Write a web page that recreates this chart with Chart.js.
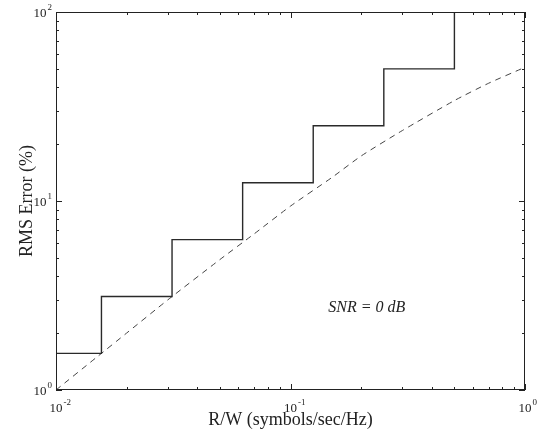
<!DOCTYPE html>
<html>
<head>
<meta charset="utf-8">
<script src="https://cdn.jsdelivr.net/npm/chart.js@4.4.0/dist/chart.umd.min.js"></script>
<style>
  html, body { margin: 0; padding: 0; background: #fff; }
  #wrap { width: 538px; height: 435px; }
</style>
</head>
<body>
<div id="wrap"><canvas id="myChart" width="538" height="435"></canvas></div>
<script>
// dados
const stepRW = [0.01, 0.015625, 0.03125, 0.0625, 0.125, 0.25, 0.5, 1];
const stepRMS = [1.5625, 3.125, 6.25, 12.5, 25, 50, 100, 100];
const curveRW = [0.01, 0.015, 0.02, 0.03, 0.05, 0.07, 0.1, 0.15, 0.2, 0.3, 0.5, 0.7, 1.0];
const curveRMS = [1.0, 1.5, 2.0, 3.0, 4.9, 6.7, 9.4, 13.3, 17.3, 23.6, 34, 42, 51];
const xDecades = [0.01, 0.1, 1];
const xExp = ['-2', '-1', '0'];
const yDecades = [1, 10, 100];
const yExp = ['0', '1', '2'];
const note = 'SNR = 0 dB';
const notePos = [0.145, 2.6];

const serif = '"Liberation Serif", "DejaVu Serif", serif';
const ink = '#222';

function toPoints(xs, ys) {
  return xs.map((x, i) => ({ x: x, y: ys[i] }));
}

// moldura, marcas internas, rótulos 10^n e anotação
const framePlugin = {
  id: 'frame',
  afterDatasetsDraw(chart) {
    const { ctx, chartArea: a, scales } = chart;
    const xs = scales.x, ys = scales.y;
    ctx.save();
    ctx.strokeStyle = ink;
    ctx.lineWidth = 1;
    ctx.strokeRect(a.left + 0.5, a.top + 0.5, a.right - a.left - 1, a.bottom - a.top - 1);

    ctx.beginPath();
    for (let d = 0; d < xDecades.length; d++) {
      for (let k = 1; k < 10; k++) {
        const v = xDecades[d] * k;
        if (v > xDecades[xDecades.length - 1]) break;
        const px = Math.round(xs.getPixelForValue(v)) + 0.5;
        const len = k === 1 ? 6 : 3;
        ctx.moveTo(px, a.bottom); ctx.lineTo(px, a.bottom - len);
        ctx.moveTo(px, a.top); ctx.lineTo(px, a.top + len);
      }
    }
    for (let d = 0; d < yDecades.length; d++) {
      for (let k = 1; k < 10; k++) {
        const v = yDecades[d] * k;
        if (v > yDecades[yDecades.length - 1]) break;
        const py = Math.round(ys.getPixelForValue(v)) + 0.5;
        const len = k === 1 ? 6 : 3;
        ctx.moveTo(a.left, py); ctx.lineTo(a.left + len, py);
        ctx.moveTo(a.right, py); ctx.lineTo(a.right - len, py);
      }
    }
    ctx.stroke();

    ctx.fillStyle = ink;
    ctx.textBaseline = 'alphabetic';
    const base = '13px ' + serif;
    const sup = '9px ' + serif;
    xDecades.forEach((v, i) => {
      const px = xs.getPixelForValue(v);
      ctx.font = base;
      const w = ctx.measureText('10').width;
      ctx.textAlign = 'left';
      ctx.fillText('10', px - w / 2, a.bottom + 22);
      ctx.font = sup;
      ctx.fillText(xExp[i], px + w / 2 + 1, a.bottom + 15);
    });
    yDecades.forEach((v, i) => {
      const py = ys.getPixelForValue(v);
      ctx.font = sup;
      const we = ctx.measureText(yExp[i]).width;
      ctx.textAlign = 'left';
      const right = a.left - 4;
      ctx.fillText(yExp[i], right - we, py - 2);
      ctx.font = base;
      ctx.textAlign = 'right';
      ctx.fillText('10', right - we - 1, py + 5);
    });

    ctx.font = 'italic 16px ' + serif;
    ctx.textAlign = 'left';
    ctx.fillText(note, xs.getPixelForValue(notePos[0]), ys.getPixelForValue(notePos[1]));
    ctx.restore();
  }
};

document.addEventListener('DOMContentLoaded', function() {
const canvas = document.getElementById('myChart');

new Chart(canvas, {
  type: 'line',
  data: {
    datasets: [{
      label: 'escada',
      data: toPoints(stepRW, stepRMS),
      stepped: true,
      borderColor: '#2a2a2a',
      borderWidth: 1.4,
      pointRadius: 0,
      fill: false
    }, {
      label: 'curva',
      data: toPoints(curveRW, curveRMS),
      borderColor: '#444',
      borderWidth: 1,
      borderDash: [6, 5],
      pointRadius: 0,
      tension: 0.2,
      fill: false
    }]
  },
  plugins: [framePlugin],
  options: {
    responsive: false,
    animation: false,
    layout: { padding: { left: 0, right: 13, top: 12, bottom: 0 } },
    plugins: { legend: { display: false }, tooltip: { enabled: false } },
    scales: {
      x: {
        type: 'logarithmic',
        min: 0.01,
        max: 1,
        grid: { display: false },
        border: { display: false },
        ticks: { display: false },
        title: {
          display: true,
          text: 'R/W (symbols/sec/Hz)',
          color: ink,
          font: { family: serif, size: 18 },
          padding: { top: 0, bottom: 4 }
        },
        afterFit(scale) { scale.height = 45; }
      },
      y: {
        type: 'logarithmic',
        min: 1,
        max: 100,
        grid: { display: false },
        border: { display: false },
        ticks: { display: false },
        title: {
          display: true,
          text: 'RMS Error (%)',
          color: ink,
          font: { family: serif, size: 18 },
          padding: { top: 16, bottom: 0 }
        },
        afterFit(scale) { scale.width = 56; }
      }
    }
  }
});
});
</script>
</body>
</html>
